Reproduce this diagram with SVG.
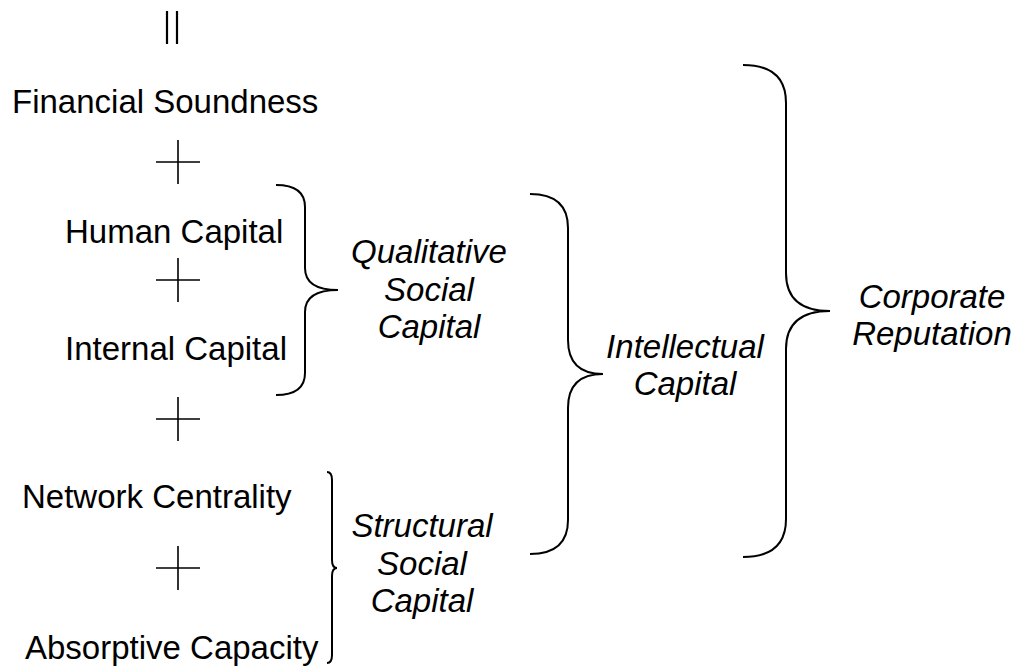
<svg xmlns="http://www.w3.org/2000/svg" width="1019" height="669" viewBox="0 0 1019 669">
<style>
text{font-family:"Liberation Sans",Arial,sans-serif;font-size:33px;fill:#000}
.it{font-style:italic;text-anchor:middle}
.plus,.brace,.eq{fill:none;stroke:#000}
.plus{stroke-width:1.6}
.brace{stroke-width:2}
.eq{stroke-width:2.2}
</style>
<rect width="1019" height="669" fill="#fff"/>
<g id="equals"><path class="eq" d="M167 11V44M177 11V44"/></g>
<g id="financial-soundness"><text x="12" y="113">Financial Soundness</text></g>
<g id="human-capital"><text x="65" y="243">Human Capital</text></g>
<g id="internal-capital"><text x="65" y="360">Internal Capital</text></g>
<g id="network-centrality"><text x="22" y="508">Network Centrality</text></g>
<g id="absorptive-capacity"><text x="25" y="659">Absorptive Capacity</text></g>
<g id="qualitative-social-capital"><text class="it" x="429" y="263">Qualitative</text><text class="it" x="429" y="301">Social</text><text class="it" x="429" y="338">Capital</text></g>
<g id="structural-social-capital"><text class="it" x="422" y="537">Structural</text><text class="it" x="422" y="575">Social</text><text class="it" x="422" y="612">Capital</text></g>
<g id="intellectual-capital"><text class="it" x="685" y="358">Intellectual</text><text class="it" x="685" y="395">Capital</text></g>
<g id="corporate-reputation"><text class="it" x="932" y="308">Corporate</text><text class="it" x="932" y="345">Reputation</text></g>
<g id="connectors">
<path class="plus" d="M156 162H200M178 140V184"/>
<path class="plus" d="M156 280H200M178 258V302"/>
<path class="plus" d="M156 419H200M178 397V441"/>
<path class="plus" d="M156 568H200M178 546V590"/>
<path class="brace" d="M276 185Q305 185 305 207L305 268Q305 290 338 290Q305 290 305 312L305 373Q305 395 276 395"/>
<path class="brace" d="M327 472Q332 472 332 480L332 560Q332 568 337 568Q332 568 332 576L332 655Q332 663 327 663"/>
<path class="brace" d="M530 194Q568 194 568 228L568 340Q568 374 603 374Q568 374 568 408L568 520Q568 554 530 554"/>
<path class="brace" d="M743 65Q786 65 786 103L786 273Q786 311 830 311Q786 311 786 349L786 519Q786 557 743 557"/>
</g>
</svg>
